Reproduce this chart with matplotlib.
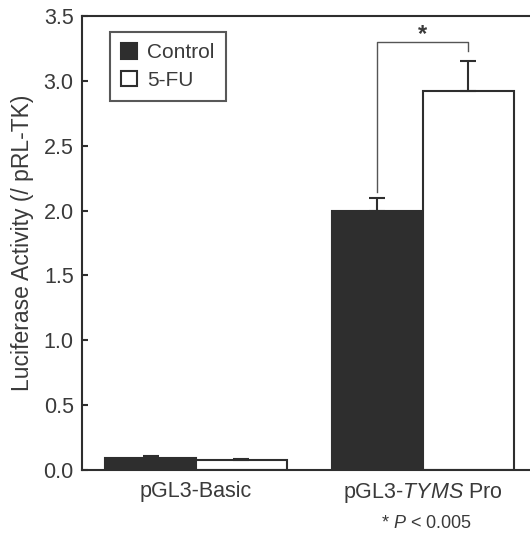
import matplotlib
matplotlib.use("Agg")
import matplotlib.pyplot as plt
import numpy as np

# luciferase reporter data, mean and upper error
groups = ["pGL3-Basic", "pGL3-$\\mathit{TYMS}$ Pro"]
control = [0.09, 2.00]
control_err = [0.02, 0.10]
fu = [0.08, 2.92]
fu_err = [0.005, 0.23]
series_names = ["Control", "5-FU"]

ink = "#2e2e2e"
plt.rcParams["font.family"] = ["Liberation Sans", "DejaVu Sans"]
plt.rcParams["mathtext.fontset"] = "custom"
plt.rcParams["mathtext.rm"] = "Liberation Sans"
plt.rcParams["mathtext.it"] = "Liberation Sans:italic"
plt.rcParams["text.color"] = "#3a3a3a"
plt.rcParams["axes.labelcolor"] = "#3a3a3a"
plt.rcParams["xtick.color"] = ink
plt.rcParams["ytick.color"] = ink
plt.rcParams["xtick.labelcolor"] = "#3a3a3a"
plt.rcParams["ytick.labelcolor"] = "#3a3a3a"

fig = plt.figure(figsize=(5.3, 5.37), dpi=100)
ax = fig.add_axes([0.1547, 0.1248, 0.8453, 0.8454])

x = np.arange(len(groups))
w = 0.4

ax.bar(x - w / 2, control, w, color=ink, edgecolor=ink, linewidth=1.5,
       label=series_names[0], zorder=2)
ax.bar(x + w / 2, fu, w, color="white", edgecolor=ink, linewidth=1.5,
       label=series_names[1], zorder=2)

# upper error bars only
ax.errorbar(x - w / 2, control, yerr=[np.zeros(len(x)), control_err], fmt="none",
            ecolor=ink, elinewidth=1.5, capsize=5.5, capthick=1.5, zorder=3)
ax.errorbar(x + w / 2, fu, yerr=[np.zeros(len(x)), fu_err], fmt="none",
            ecolor=ink, elinewidth=1.5, capsize=5.5, capthick=1.5, zorder=3)

# significance bracket between the two TYMS bars
x1, x2 = x[1] - w / 2, x[1] + w / 2
top = 3.30
ax.plot([x1, x1, x2, x2],
        [control[1] + control_err[1] + 0.04, top, top, fu[1] + fu_err[1] + 0.08],
        color="#555555", linewidth=1.0, zorder=3)
ax.text((x1 + x2) / 2, top - 0.03, "*", ha="center", va="bottom", fontsize=17,
        fontweight="bold")

ax.set_xlim(-0.502, 1.472)
ax.set_ylim(0, 3.5)
ax.set_yticks(np.arange(0, 3.51, 0.5))
ax.set_yticklabels([f"{v:.1f}" for v in np.arange(0, 3.51, 0.5)])
ax.set_xticks(x)
ax.set_xticklabels(groups)
ax.tick_params(axis="y", direction="in", length=4, width=1.5, labelsize=15.5, pad=6)
ax.tick_params(axis="x", length=0, labelsize=15.5, pad=8)
ax.set_ylabel("Luciferase Activity (/ pRL-TK)", fontsize=16.5, labelpad=7)

for side in ["left", "top", "bottom"]:
    ax.spines[side].set_linewidth(1.5)
    ax.spines[side].set_color(ink)
ax.spines["right"].set_visible(False)

leg = ax.legend(loc="upper left", bbox_to_anchor=(0.0625, 0.965), borderaxespad=0,
                fontsize=15, frameon=True, fancybox=False, handlelength=0.75,
                handleheight=0.75, handletextpad=0.5, labelspacing=0.4,
                borderpad=0.55)
leg.get_frame().set_edgecolor(ink)
leg.get_frame().set_linewidth(1.5)

fig.text(426 / 530, 1 - 523 / 537, "* $\\mathit{P}$ < 0.005", ha="center",
         va="center", fontsize=13)

fig.savefig("out.png", dpi=100)
